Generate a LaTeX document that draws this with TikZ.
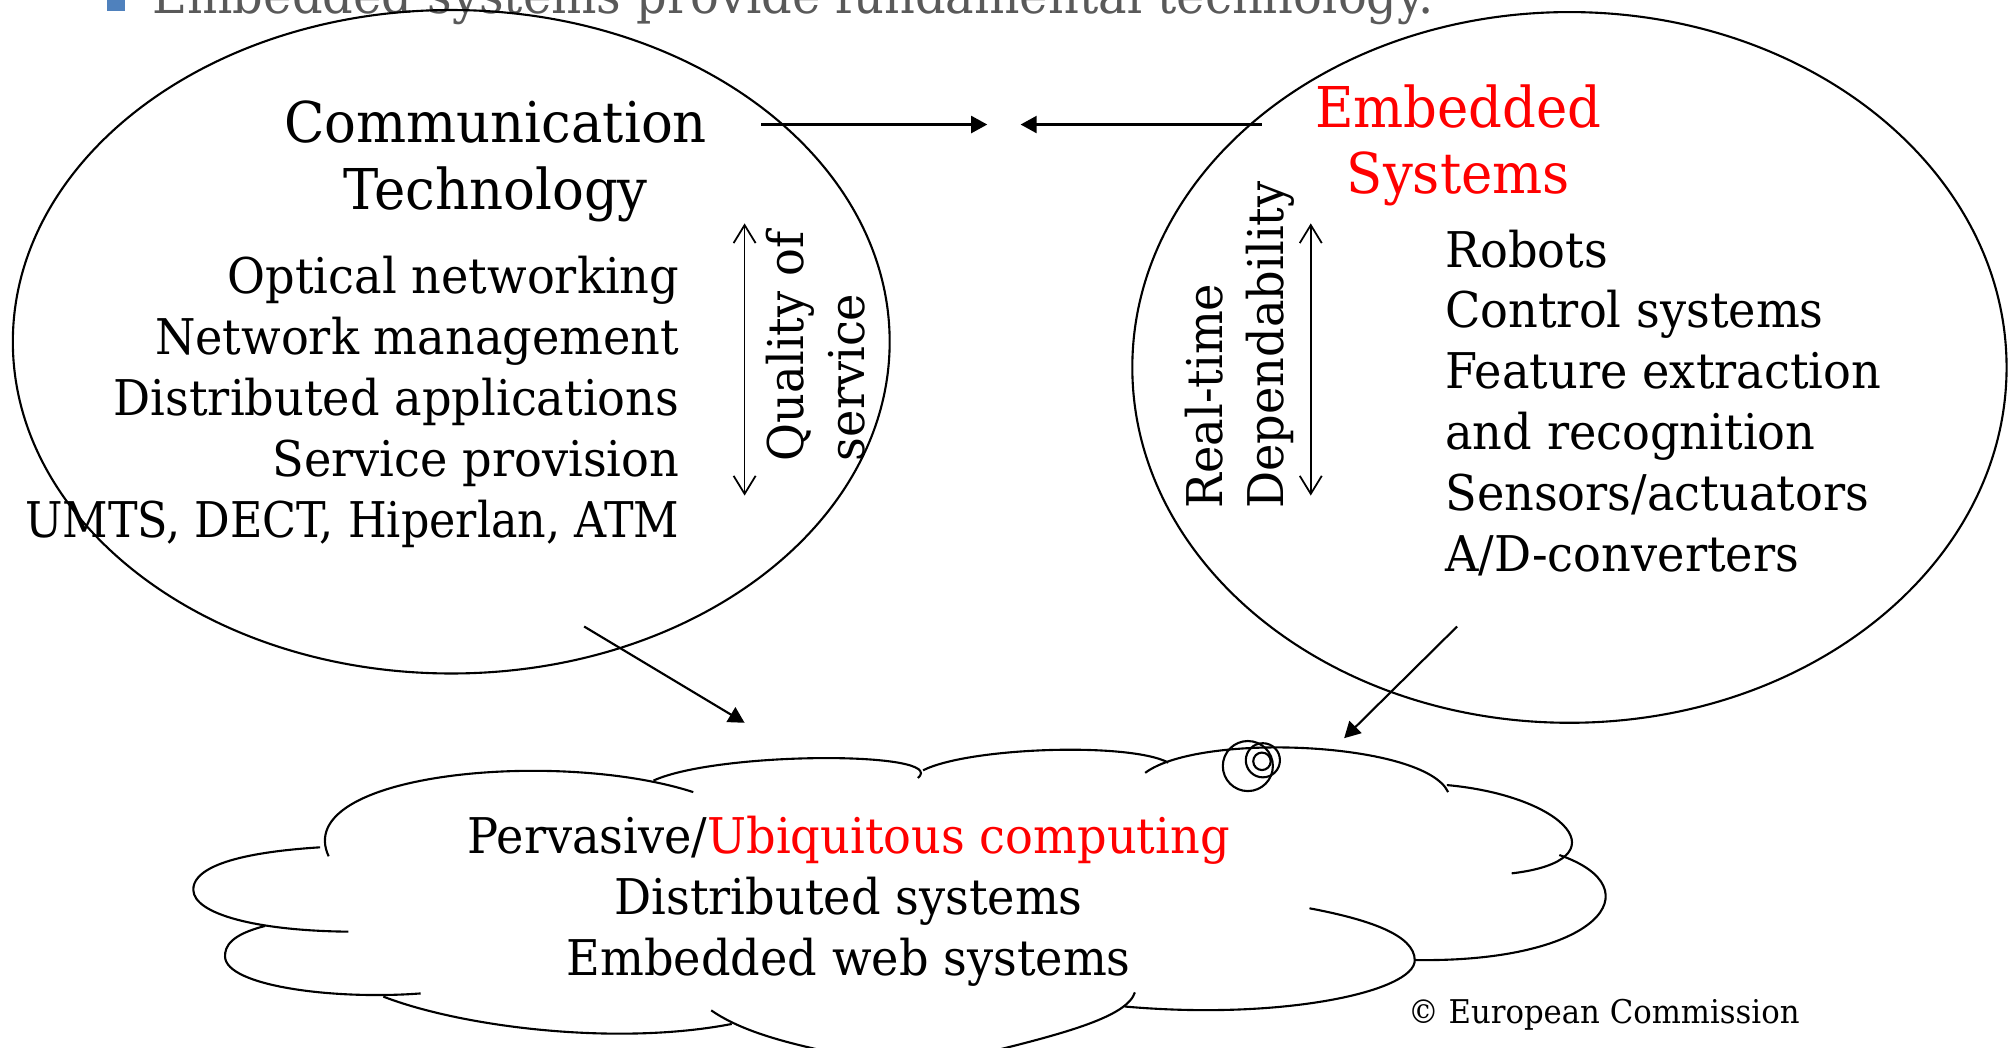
\documentclass[tikz,border=0pt]{standalone}
\usepackage{fontspec}
\setmainfont{DejaVu Serif}[FakeStretch=0.94]
\usetikzlibrary{arrows.meta}
\definecolor{hotred}{RGB}{255,0,0}
\definecolor{titlegray}{RGB}{89,89,89}
\definecolor{bulletblue}{RGB}{79,129,189}

\begin{document}
\begin{tikzpicture}[x=0.012838cm,y=-0.012838cm,line width=0.6pt,
  list text/.style={font=\fontsize{14}{17.3}\selectfont,inner sep=0pt},
  head text/.style={font=\fontsize{16}{18.9}\selectfont,inner sep=0pt,align=center},
  flow arrow/.style={-{Triangle[length=1.6mm,width=1.7mm]}},
  span arrow/.style={{Straight Barb[length=1.8mm,width=2.2mm]}-{Straight Barb[length=1.8mm,width=2.2mm]},line width=0.5pt}]

  \useasboundingbox (0,0) rectangle (1568,816);
  \clip (0,0) rectangle (1568,816);

  \fill[bulletblue] (83,-7) rectangle (97,8.6);
  \node[font=\fontsize{14.5}{18}\selectfont,text=titlegray,inner sep=0pt,anchor=base west]
    (title) at (118,10.4) {Embedded systems provide fundamental technology.};

  \draw (351.5,266.2) ellipse [x radius=341.5,y radius=258.4];
  \draw (1222.5,286.2) ellipse [x radius=340.5,y radius=276.8];

  \node[head text,anchor=base] (comm) at (386,163) {Communication\\Technology};
  \node[list text,align=right,anchor=base east] (commlist) at (530,418.5)
    {Optical networking\\Network management\\Distributed applications\\Service provision\\\scalebox{0.96}[1]{UMTS, DECT, Hiperlan, ATM}};
  \node[list text,rotate=90,align=left,anchor=base west] (qos) at (673,360) {Quality of\\service};

  \node[head text,text=hotred,anchor=base] (emb) at (1136,151) {Embedded\\Systems};
  \node[list text,align=left,anchor=base west] (emblist) at (1125,445)
    {Robots\\Control systems\\Feature extraction\\and recognition\\Sensors/actuators\\A/D-converters};
  \node[list text,rotate=90,align=left,anchor=base west] (rtdep) at (1000,397) {Real-time\\Dependability};

  \coordinate (commout) at (593,97);
  \coordinate (meetl) at (769,97);
  \coordinate (embout) at (983,97);
  \coordinate (meetr) at (795,97);
  \draw[flow arrow] (commout) -- (meetl);
  \draw[flow arrow] (embout) -- (meetr);

  \coordinate (qostop) at (580,174);
  \coordinate (qosbot) at (580,386);
  \coordinate (deptop) at (1021,174);
  \coordinate (depbot) at (1021,386);
  \draw[span arrow] (qostop) -- (qosbot);
  \draw[span arrow] (deptop) -- (depbot);

  \coordinate (commdown) at (455,488);
  \coordinate (cloudl) at (580,563);
  \coordinate (embdown) at (1135,488);
  \coordinate (cloudr) at (1047,575);
  \draw[flow arrow] (commdown) -- (cloudl);
  \draw[flow arrow] (embdown) -- (cloudr);

  % cloud
  \draw (256,667) .. controls (226,602) and (435,583) .. (540,617);
  \draw (509,608) .. controls (560,585) and (740,585) .. (715,606);
  \draw (719,600) .. controls (755,582) and (880,578) .. (910,594);
  \draw (892,602) .. controls (935,570) and (1110,578) .. (1128,617);
  \draw (1127,611.5) .. controls (1220,620) and (1265,670) .. (1177.5,680.3);
  \draw (1214.6,666) .. controls (1290,692) and (1245,750) .. (1102.2,747.8);
  \draw (1020,707.5) .. controls (1065,716) and (1102,728) .. (1102,748)
    .. controls (1102,772) and (1000,795) .. (876,784);
  \draw (884,773) .. controls (878,792) and (830,805) .. (760,822);
  \draw (554,787) .. controls (580,805) and (620,815) .. (680,826);
  \draw (298.6,776.3) .. controls (360,800) and (480,815) .. (570,797.6);
  \draw (249.3,660) .. controls (170,665) and (150,680) .. (150.6,693.3)
    .. controls (151,712) and (200,725) .. (271.3,725.7);
  \draw (206.4,721.3) .. controls (180,728) and (175,737) .. (175.3,745.2)
    .. controls (176,768) and (260,779) .. (327.7,773.8);
  \draw (972,596.7) circle (19.5);
  \draw (983.7,592.2) circle (13.3);
  \draw (983,593) circle (6.8);

  \node[list text,align=center,anchor=base] (cloudtext) at (661,759.5)
    {Pervasive/\textcolor{hotred}{Ubiquitous computing}\\Distributed systems\\Embedded web systems};
  \node[font=\fontsize{9.3}{11}\selectfont,inner sep=0pt,anchor=base west] (copy) at (1096,797)
    {© European Commission};
\end{tikzpicture}
\end{document}
